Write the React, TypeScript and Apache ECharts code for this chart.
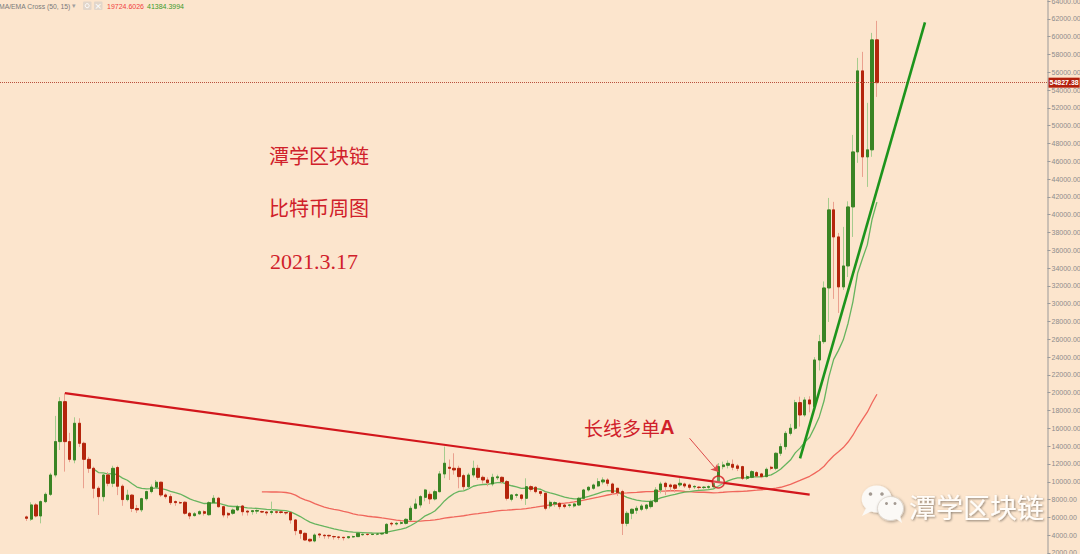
import React, { useEffect, useRef } from 'react';
import * as echarts from 'echarts';

// Weekly BTC candles: open, close, low, high
const opens = [
  6050, 5800, 7400, 6160, 7770, 8590, 10760, 14510, 19000, 14510,
  12450, 16570, 14320, 12520, 11510, 9270, 8330, 10760, 9830, 11600,
  9500, 8000, 8500, 7000, 6850, 8100, 8900, 9400, 9950, 8520,
  8330, 7770, 7660, 7700, 6460, 6200, 6400, 6640, 6300, 7650,
  8150, 7200, 6450, 6460, 6830, 7280, 6700, 6650, 6700, 6650,
  6600, 6550, 6620, 6620, 6550, 6530, 5710, 4510, 4210, 3540,
  3350, 4130, 3990, 3980, 3850, 3800, 3760, 3720, 3800, 3840,
  4050, 4100, 4080, 4120, 4140, 4210, 5330, 5260, 5330, 5330,
  5710, 7020, 7390, 8250, 8590, 8070, 8890, 10880, 11630, 11510,
  11510, 10690, 9450, 10760, 11510, 10500, 10200, 9750, 10450, 10500,
  10020, 8030, 8480, 8520, 8140, 9450, 9380, 8890, 8700, 7280,
  7510, 7580, 7390, 7350, 7280, 7390, 8140, 9080, 9270, 9530,
  9980, 10200, 9750, 9270, 8900, 5330, 6460, 6800, 6910, 7020,
  7210, 7770, 9080, 9830, 9640, 9640, 9640, 9750, 9640, 9430,
  9400, 9350, 9380, 9450, 10020, 11700, 11850, 11960, 11780, 11700,
  10390, 10500, 11030, 10880, 10580, 11630, 11510, 13200, 13950, 15440,
  16010, 18890, 17500, 19190, 18440, 23680, 25740, 31770, 40540, 37500,
  31890, 34240, 40870, 47050, 56150, 46490, 47280, 59640,
];
const closes = [
  5900, 7400, 6160, 7770, 8590, 10760, 14510, 19000, 14510, 12520,
  16570, 14320, 12520, 11510, 9270, 8330, 10760, 9830, 11510, 9500,
  8000, 8500, 7000, 6850, 8100, 8900, 9400, 9950, 8520, 8330,
  7660, 7660, 7620, 6460, 6160, 6400, 6640, 6460, 7650, 8150,
  7200, 6270, 6270, 6830, 7200, 6640, 6600, 6750, 6780, 6600,
  6500, 6650, 6580, 6550, 6500, 5710, 4510, 4210, 3460, 3350,
  4020, 4020, 3940, 3920, 3820, 3760, 3720, 3830, 3850, 4210,
  4100, 4080, 4120, 4140, 4210, 5220, 5260, 5330, 5410, 5780,
  7020, 7510, 8330, 9080, 8070, 8890, 10880, 12080, 11510, 11330,
  10580, 9450, 10760, 11510, 10500, 10200, 9900, 10500, 10550, 10020,
  8140, 8520, 8550, 8140, 9450, 9150, 8890, 8700, 7020, 7690,
  7660, 7210, 7210, 7400, 7510, 8140, 9080, 9380, 9640, 10020,
  10200, 9830, 8780, 8780, 5330, 6460, 6910, 7020, 7280, 7390,
  7770, 9080, 9750, 9450, 9450, 9270, 9830, 9530, 9380, 9480,
  9350, 9400, 9450, 9830, 11700, 11890, 12070, 11630, 11510, 10390,
  10580, 11140, 10650, 10580, 11400, 11510, 13200, 13950, 15440, 16010,
  18890, 17500, 19190, 18740, 23680, 25740, 31770, 40540, 37500, 31890,
  34240, 40870, 47050, 56150, 46490, 47280, 59640, 54827.38,
];
const lows = [
  5600, 5600, 6000, 5330, 7600, 8400, 10500, 13570, 11140, 12200,
  12080, 13900, 9270, 11000, 8140, 6270, 7800, 9500, 9400, 8500,
  7300, 7800, 6600, 6500, 6600, 7900, 8700, 9200, 8300, 8100,
  7400, 7300, 7500, 6300, 5800, 6100, 6300, 6200, 6200, 7500,
  7100, 6000, 5900, 6300, 6700, 6200, 6200, 6300, 6400, 6500,
  6200, 6300, 6400, 6400, 6300, 5300, 4000, 3600, 3400, 3200,
  3200, 3700, 3600, 3600, 3500, 3500, 3400, 3600, 3700, 3800,
  3950, 3950, 4000, 4000, 4050, 4150, 5000, 5100, 5200, 5200,
  5600, 6900, 7100, 7800, 7500, 7900, 8800, 10400, 10200, 10800,
  9270, 9100, 9200, 10500, 10200, 9800, 9500, 9500, 10200, 9800,
  7900, 7800, 8200, 7900, 7400, 8900, 8700, 8400, 6800, 7000,
  7200, 6900, 7000, 7100, 7100, 7300, 8000, 8900, 9100, 9400,
  9700, 9500, 8500, 8400, 4020, 5000, 5800, 6400, 6700, 6800,
  7000, 7600, 8700, 8500, 9000, 8800, 9400, 9300, 9100, 9200,
  9100, 9200, 9200, 9300, 9900, 11400, 11500, 11300, 11200, 10200,
  10200, 10400, 10500, 10400, 10500, 11300, 11300, 12900, 13600, 15200,
  15800, 16200, 17300, 17800, 18200, 22500, 25500, 27950, 30540, 28960,
  31550, 33000, 37500, 45820, 44240, 43120, 46500, 53230,
];
const highs = [
  6200, 7700, 7600, 7900, 8800, 11000, 17400, 19500, 19940, 15500,
  17240, 17130, 14500, 12800, 11700, 9500, 11000, 11100, 11800, 11800,
  9700, 9100, 8600, 7400, 8200, 9000, 9700, 10200, 10000, 8700,
  8600, 7900, 7800, 7800, 6600, 6600, 6800, 6800, 7800, 8500,
  8300, 7300, 6600, 7000, 7400, 7400, 6800, 6800, 6900, 6750,
  6700, 7770, 6700, 6700, 6600, 6600, 5800, 4600, 4300, 3600,
  4200, 4200, 4100, 4050, 3950, 3850, 3800, 3900, 3950, 4250,
  4200, 4200, 4200, 4250, 4300, 5350, 5500, 5500, 5600, 5900,
  7300, 8100, 8500, 9200, 8900, 9100, 11200, 13950, 12500, 13200,
  11800, 10900, 11000, 12370, 11900, 10700, 10500, 10900, 10800, 10600,
  10200, 8600, 8700, 8600, 10390, 9600, 9500, 9000, 8800, 7900,
  7800, 7700, 7500, 7500, 7600, 8300, 9200, 9500, 9800, 10400,
  10500, 10400, 9900, 9300, 9100, 6700, 7000, 7300, 7500, 7500,
  8000, 9400, 10000, 10000, 9800, 9700, 10390, 9900, 9800, 9600,
  9500, 9500, 9600, 10000, 12100, 12260, 12400, 12500, 12000, 11800,
  10800, 11300, 11200, 11000, 11600, 11800, 13300, 14300, 15700, 16500,
  19200, 19560, 19500, 19600, 24000, 26500, 32500, 41880, 41440, 37950,
  38630, 41500, 48960, 57610, 58290, 52560, 60420, 61770,
];

// Indicator settings and the values printed in the legend
const maLength = 50;
const emaLength = 15;
const legendValues = ['19724.6026', '41384.3994'];
const lastPrice = 54827.38;
const lastPriceLabel = '54827.38';

// Hand-drawn annotations (category index, price)
const redTrend = [[13, 19960], [168, 8560]];
const greenTrend = [[166, 12630], [192, 61600]];
const breakoutPoint = [149, 9977];
const arrowFrom = [143, 14890];
const arrowTo = [149, 11110];

const LEAD = 5;
const TOTAL = 218;

const BG = '#fce5cd';

function buildIndicators() {
  const n = closes.length;
  const ma: (number | string)[] = [];
  const ema: (number | string)[] = [];
  const k = 2 / (emaLength + 1);
  let prev = 0;
  for (let i = 0; i < n; i++) {
    if (i >= maLength - 1) {
      let s = 0;
      for (let j = i - maLength + 1; j <= i; j++) s += closes[j];
      ma.push(s / maLength);
    } else ma.push('-');
    if (i === emaLength - 1) {
      let s = 0;
      for (let j = 0; j < emaLength; j++) s += closes[j];
      prev = s / emaLength;
      ema.push(prev);
    } else if (i >= emaLength) {
      prev = closes[i] * k + prev * (1 - k);
      ema.push(prev);
    } else ema.push('-');
  }
  return { ma, ema };
}

export default function App() {
  const ref = useRef<HTMLDivElement>(null);
  useEffect(() => {
    if (!ref.current) return;
    const chart = echarts.init(ref.current, undefined, { renderer: 'svg' });
    const cats: string[] = [];
    for (let i = 0; i < TOTAL; i++) cats.push(String(i));
    const empty4 = ['-', '-', '-', '-'];
    const wickData: any[] = [];
    const bodyData: any[] = [];
    const { ma, ema } = buildIndicators();
    const maData: any[] = [];
    const emaData: any[] = [];
    for (let i = 0; i < TOTAL; i++) {
      const c = i - LEAD;
      if (c >= 0 && c < closes.length) {
        const o = opens[c], cl = closes[c];
        wickData.push([o, cl, lows[c], highs[c]]);
        bodyData.push([o, cl, Math.min(o, cl), Math.max(o, cl)]);
        maData.push(ma[c]);
        emaData.push(ema[c]);
      } else {
        wickData.push(empty4);
        bodyData.push(empty4);
        maData.push('-');
        emaData.push('-');
      }
    }

    const red = '#d0202a';
    const option: any = {
      animation: false,
      backgroundColor: BG,
      grid: { left: 0, right: 32.5, top: -16.8, bottom: -16.8, outerBoundsMode: 'none', containLabel: false },
      xAxis: { type: 'category', data: cats, show: false, boundaryGap: true },
      yAxis: {
        type: 'value',
        position: 'right',
        min: 0,
        max: 66000,
        interval: 2000,
        axisLine: { show: true, lineStyle: { color: '#cbbfb3', width: 2 } },
        axisTick: { show: true, length: 3, lineStyle: { color: '#9a9a9a' } },
        axisLabel: {
          fontSize: 7,
          color: '#8c8c8c',
          margin: 4,
          fontFamily: 'Liberation Sans',
          formatter: (v: number) => v.toFixed(2),
        },
        splitLine: { show: false },
      },
      series: [
        {
          type: 'line', name: 'MA50', data: maData, symbol: 'none', z: 2,
          lineStyle: { color: '#f0675c', width: 1.3 },
        },
        {
          type: 'line', name: 'EMA15', data: emaData, symbol: 'none', z: 2,
          lineStyle: { color: '#66b45e', width: 1.3 },
        },
        {
          type: 'candlestick', name: 'wick', data: wickData, barWidth: 2, z: 3,
          itemStyle: {
            color: '#a6cc8e', color0: '#eaa08e',
            borderColor: '#a6cc8e', borderColor0: '#eaa08e', borderWidth: 1,
          },
        },
        {
          type: 'candlestick', name: 'body', data: bodyData, barWidth: 2.8, z: 4,
          itemStyle: {
            color: '#3a8424', color0: '#b4250c',
            borderColor: '#3a8424', borderColor0: '#b4250c', borderWidth: 1,
          },
        },
        {
          type: 'line', name: 'redTrend', data: redTrend, symbol: 'none', z: 5,
          lineStyle: { color: '#d2161c', width: 2.2 },
        },
        {
          type: 'line', name: 'greenTrend', data: greenTrend, symbol: 'none', z: 5,
          lineStyle: { color: '#1c941c', width: 2.6 },
        },
        {
          type: 'scatter', name: 'breakout', data: [breakoutPoint], z: 6, clip: false,
          symbol: 'circle', symbolSize: 12,
          itemStyle: { color: 'rgba(255,255,255,0.3)', borderColor: '#d2161c', borderWidth: 1.5 },
          markLine: {
            silent: true,
            animation: false,
            symbol: ['none', 'none'],
            data: [
              [
                { coord: arrowFrom, lineStyle: { color: '#dd4a4a', width: 1, type: 'solid' }, label: { show: false } },
                { coord: arrowTo, symbol: 'arrow', symbolSize: 7 },
              ],
              {
                yAxis: lastPrice,
                lineStyle: { color: '#b8503c', width: 1, type: 'dotted' },
                label: {
                  show: true, position: 'end', formatter: lastPriceLabel, color: '#fff', fontSize: 7,
                  fontWeight: 'bold', fontFamily: 'Liberation Sans', backgroundColor: '#b3200c',
                  padding: [1.5, 1, 1.5, 1], distance: 1,
                },
              },
            ],
          },
        },
      ],
      graphic: [
        // indicator legend
        { type: 'text', x: -1, y: 6, silent: true, style: { text: 'MA/EMA Cross (50, 15)', fill: '#7a7a7a', fontSize: 6.8, fontFamily: 'Liberation Sans', verticalAlign: 'middle' } },
        { type: 'text', x: 72, y: 6, silent: true, style: { text: '▾', fill: '#a0a0a0', fontSize: 7, fontFamily: 'DejaVu Sans', verticalAlign: 'middle' } },
        { type: 'rect', silent: true, shape: { x: 83, y: 1.5, width: 8.5, height: 8.5, r: 1 }, style: { fill: '#e2d6ca' } },
        { type: 'circle', silent: true, shape: { cx: 87.2, cy: 5.7, r: 2 }, style: { fill: 'none', stroke: '#fff', lineWidth: 1 } },
        { type: 'rect', silent: true, shape: { x: 94, y: 1.5, width: 8.5, height: 8.5, r: 1 }, style: { fill: '#e2d6ca' } },
        { type: 'text', x: 98.2, y: 6, silent: true, style: { text: '×', fill: '#fff', fontSize: 9, fontFamily: 'DejaVu Sans', align: 'center', verticalAlign: 'middle' } },
        { type: 'text', x: 107, y: 6, silent: true, style: { text: legendValues[0], fill: '#f04040', fontSize: 7, fontFamily: 'Liberation Sans', verticalAlign: 'middle' } },
        { type: 'text', x: 147, y: 6, silent: true, style: { text: legendValues[1], fill: '#3c9a2c', fontSize: 7, fontFamily: 'Liberation Sans', verticalAlign: 'middle' } },
        // red notes
        { type: 'text', x: 269, y: 155, silent: true, style: { text: '潭学区块链', fill: red, fontSize: 20, fontFamily: '"Noto Sans CJK SC"', verticalAlign: 'middle' } },
        { type: 'text', x: 269, y: 207, silent: true, style: { text: '比特币周图', fill: red, fontSize: 20, fontFamily: '"Noto Sans CJK SC"', verticalAlign: 'middle' } },
        { type: 'text', x: 270, y: 261, silent: true, style: { text: '2021.3.17', fill: red, fontSize: 22, fontFamily: '"Liberation Serif"', verticalAlign: 'middle' } },
        {
          type: 'text', x: 584, y: 427, silent: true,
          style: {
            text: '{a|长线多单}{b|A}', verticalAlign: 'middle',
            rich: {
              a: { fill: red, fontSize: 19, fontFamily: '"Noto Sans CJK SC"' },
              b: { fill: red, fontSize: 20, fontWeight: 'bold', fontFamily: '"Liberation Sans"' },
            },
          },
        },
        // watermark
        { type: 'ellipse', silent: true, shape: { cx: 876.7, cy: 499, rx: 15, ry: 13.5 }, style: { fill: '#fbf9f6', shadowBlur: 3, shadowColor: 'rgba(0,0,0,0.35)', shadowOffsetX: 1, shadowOffsetY: 1 } },
        { type: 'polygon', silent: true, shape: { points: [[866, 508], [862, 516], [872, 511]] }, style: { fill: '#fbf9f6' } },
        { type: 'circle', silent: true, shape: { cx: 870.5, cy: 494, r: 1.8 }, style: { fill: '#a39a92' } },
        { type: 'circle', silent: true, shape: { cx: 882, cy: 494, r: 1.8 }, style: { fill: '#a39a92' } },
        { type: 'ellipse', silent: true, shape: { cx: 890.5, cy: 508.5, rx: 13, ry: 12 }, style: { fill: '#fbf9f6', stroke: '#d8d0c8', lineWidth: 0.8, shadowBlur: 3, shadowColor: 'rgba(0,0,0,0.35)', shadowOffsetX: 1, shadowOffsetY: 1 } },
        { type: 'polygon', silent: true, shape: { points: [[895, 518], [902, 523], [900, 515]] }, style: { fill: '#fbf9f6' } },
        { type: 'circle', silent: true, shape: { cx: 886.5, cy: 503.5, r: 1.5 }, style: { fill: '#a39a92' } },
        { type: 'circle', silent: true, shape: { cx: 895, cy: 503.5, r: 1.5 }, style: { fill: '#a39a92' } },
        { type: 'text', x: 909, y: 506, silent: true, style: { text: '潭学区块链', fill: '#fffdfa', fontSize: 27, fontFamily: '"Noto Sans CJK SC"', verticalAlign: 'middle', textShadowColor: 'rgba(0,0,0,0.45)', textShadowBlur: 2, textShadowOffsetX: 1, textShadowOffsetY: 1 } },
      ],
    };
    chart.setOption(option);
    return () => chart.dispose();
  }, []);
  return (
    <div
      ref={ref}
      style={{ position: 'fixed', left: 0, top: 0, width: 1080, height: 554, background: BG }}
    />
  );
}
